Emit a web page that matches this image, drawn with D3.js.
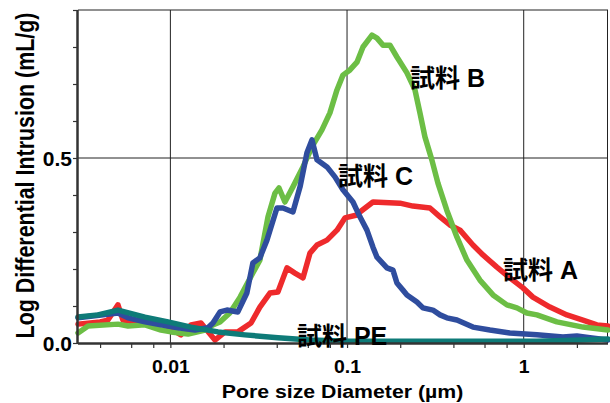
<!DOCTYPE html>
<html>
<head>
<meta charset="utf-8">
<script src="https://cdn.jsdelivr.net/npm/d3@7"></script>
<style>
  body { margin: 0; background: #fff; }
  text { font-family: "Liberation Sans", Arial, "Noto Sans CJK JP", sans-serif; font-weight: bold; fill: #000; }
</style>
</head>
<body>
<div id="chart"></div>
<script>
// Pore size (um) vs log differential intrusion (mL/g)
var sampleA = [
  [0.0030, 0.051], [0.0040, 0.057], [0.00443, 0.062], [0.00505, 0.103], [0.00539, 0.062],
  [0.00631, 0.057], [0.00818, 0.054], [0.00932, 0.049], [0.01148, 0.022], [0.01308, 0.049],
  [0.0149, 0.054], [0.01788, 0.008], [0.0204, 0.030], [0.0241, 0.030], [0.0286, 0.054],
  [0.0321, 0.097], [0.0366, 0.135], [0.0406, 0.138], [0.0457, 0.203], [0.0507, 0.189],
  [0.0563, 0.176], [0.0617, 0.243], [0.0676, 0.265], [0.0770, 0.278], [0.0877, 0.305],
  [0.0973, 0.338], [0.1138, 0.346], [0.1183, 0.354], [0.1402, 0.381], [0.1993, 0.378],
  [0.2360, 0.370], [0.2946, 0.365], [0.336, 0.341], [0.382, 0.319], [0.436, 0.305],
  [0.516, 0.265], [0.588, 0.238], [0.705, 0.205], [0.835, 0.176], [0.990, 0.149],
  [1.127, 0.124], [1.407, 0.097], [1.756, 0.076], [2.163, 0.062], [2.596, 0.049], [2.996, 0.046]
];
var sampleB = [
  [0.0030, 0.027], [0.00342, 0.046], [0.00505, 0.051], [0.00576, 0.046], [0.00718, 0.049],
  [0.00885, 0.035], [0.0101, 0.030], [0.0126, 0.024], [0.0157, 0.035], [0.0174, 0.049],
  [0.0191, 0.057], [0.0217, 0.081], [0.0248, 0.124], [0.0293, 0.189], [0.0321, 0.224],
  [0.0357, 0.341], [0.0391, 0.405], [0.0412, 0.419], [0.0445, 0.381], [0.0494, 0.422],
  [0.0563, 0.476], [0.0641, 0.535], [0.0721, 0.576], [0.0800, 0.622], [0.0877, 0.684],
  [0.0948, 0.724], [0.1039, 0.738], [0.1138, 0.759], [0.1231, 0.800], [0.1384, 0.832],
  [0.1477, 0.824], [0.1597, 0.805], [0.1749, 0.805], [0.1916, 0.773], [0.2183, 0.730],
  [0.2423, 0.684], [0.2586, 0.622], [0.276, 0.557], [0.302, 0.495], [0.327, 0.432],
  [0.367, 0.359], [0.419, 0.286], [0.477, 0.224], [0.565, 0.170], [0.670, 0.130],
  [0.803, 0.103], [0.915, 0.095], [1.042, 0.081], [1.188, 0.076], [1.541, 0.057],
  [2.163, 0.043], [2.996, 0.035]
];
var sampleC = [
  [0.0030, 0.068], [0.00505, 0.081], [0.00576, 0.068], [0.00718, 0.057], [0.00885, 0.049],
  [0.01104, 0.041], [0.01378, 0.035], [0.01632, 0.041], [0.01742, 0.054], [0.0191, 0.084],
  [0.0209, 0.089], [0.0241, 0.084], [0.0271, 0.135], [0.0293, 0.216], [0.0321, 0.230],
  [0.0352, 0.278], [0.0401, 0.365], [0.0434, 0.365], [0.0494, 0.354], [0.0542, 0.422],
  [0.0593, 0.514], [0.0633, 0.549], [0.0676, 0.495], [0.0770, 0.476], [0.0854, 0.449],
  [0.0948, 0.414], [0.1080, 0.381], [0.1183, 0.341], [0.1296, 0.305], [0.1402, 0.259],
  [0.1477, 0.232], [0.1682, 0.203], [0.1819, 0.197], [0.1916, 0.162], [0.2072, 0.143],
  [0.2183, 0.130], [0.2487, 0.111], [0.2689, 0.095], [0.306, 0.089], [0.336, 0.076],
  [0.367, 0.068], [0.419, 0.062], [0.516, 0.043], [0.644, 0.035], [0.835, 0.027],
  [1.188, 0.022], [1.667, 0.016], [2.000, 0.019], [2.370, 0.014], [2.996, 0.008]
];
var samplePE = [
  [0.0030, 0.070], [0.00389, 0.076], [0.00505, 0.089], [0.00718, 0.070], [0.0097, 0.057],
  [0.01308, 0.043], [0.0186, 0.030], [0.0264, 0.022], [0.0406, 0.014], [0.0617, 0.008],
  [0.1039, 0.005], [0.382, 0.005], [1.188, 0.005], [2.163, 0.008], [2.996, 0.011]
];

var seriesNames = ["試料 A", "試料 B", "試料 C", "試料 PE"];
var xTickValues = [0.004, 0.006, 0.008, 0.01, 0.02, 0.04, 0.06, 0.08, 0.1, 0.2, 0.4, 0.6, 0.8, 1, 2];
var xTickLabels = { "0.01": "0.01", "0.1": "0.1", "1": "1" };
var yTickValues = [0, 0.1, 0.2, 0.3, 0.4, 0.5, 0.6, 0.7, 0.8, 0.9];
var yTickLabels = { "0": "0.0", "0.5": "0.5" };

// Setting chart parameters
var svgWidth = 610;
var svgHeight = 403;
var margin = { top: 10, right: 2, bottom: 60, left: 78 };
var width = svgWidth - margin.left - margin.right;
var height = svgHeight - margin.top - margin.bottom;

var svg = d3.select("#chart").append("svg")
  .attr("width", svgWidth)
  .attr("height", svgHeight)
  .style("display", "block");

var chart = svg.append("g").attr("transform", `translate(${margin.left}, ${margin.top})`);

var x = d3.scaleLog().domain([0.003, 3]).range([0, width]);
var y = d3.scaleLinear().domain([0, 0.9]).range([height, 0]);

// Grid lines
chart.selectAll(".vgrid").data([0.01, 0.1, 1]).enter().append("line")
  .attr("x1", d => x(d)).attr("x2", d => x(d))
  .attr("y1", 0).attr("y2", height)
  .attr("stroke", "#222").attr("stroke-width", 1);
chart.selectAll(".hgrid").data([0.5, 0.9]).enter().append("line")
  .attr("x1", 0).attr("x2", width)
  .attr("y1", d => y(d)).attr("y2", d => y(d))
  .attr("stroke", "#222").attr("stroke-width", 1);
chart.append("line")
  .attr("x1", width - 0.5).attr("x2", width - 0.5)
  .attr("y1", 0).attr("y2", height)
  .attr("stroke", "#222").attr("stroke-width", 1);

// Lines
var line = d3.line()
  .x(d => x(d[0]))
  .y(d => y(d[1]));

var series = [
  { name: seriesNames[0], data: sampleA, color: "#ee2a2c" },
  { name: seriesNames[1], data: sampleB, color: "#6cbe45" },
  { name: seriesNames[2], data: sampleC, color: "#2f4d9e" },
  { name: seriesNames[3], data: samplePE, color: "#0e7b78" }
];

chart.selectAll(".series").data(series).enter().append("path")
  .attr("d", d => line(d.data))
  .attr("fill", "none")
  .attr("stroke", d => d.color)
  .attr("stroke-width", 5.5)
  .attr("stroke-linejoin", "round")
  .attr("stroke-linecap", "round");

// Axes
var bottomAxis = d3.axisBottom(x)
  .tickValues(xTickValues)
  .tickSize(5)
  .tickFormat(d => xTickLabels[String(d)] || "");
var leftAxis = d3.axisLeft(y)
  .tickValues(yTickValues)
  .tickSize(5)
  .tickFormat(d => yTickLabels[String(d)] || "");

var gx = chart.append("g").attr("transform", `translate(0, ${height})`).call(bottomAxis);
var gy = chart.append("g").call(leftAxis);

[gx, gy].forEach(function(g) {
  g.select(".domain").attr("stroke", "#333").attr("stroke-width", 2.5);
  g.selectAll(".tick line").attr("stroke", "#333").attr("stroke-width", 1.2);
  g.selectAll(".tick text").attr("fill", "#000");
});
gx.select(".domain").attr("d", `M0,0.5H${width}`);
gy.select(".domain").attr("d", `M-0.5,0V${height}`);

gx.selectAll(".tick text")
  .style("font-size", "18px")
  .attr("y", 30.5).attr("dy", null)
  .attr("transform", "scale(1.08,1)");
gy.selectAll(".tick text")
  .style("font-size", "21px")
  .attr("x", -6).attr("dy", "0.38em");

// Axis titles
svg.append("text")
  .attr("transform", "translate(342.5, 397.5) scale(1.12,1)")
  .attr("text-anchor", "middle")
  .style("font-size", "19px")
  .text("Pore size Diameter (µm)");

svg.append("text")
  .attr("transform", "translate(33.5, 175.5) rotate(-90) scale(0.84,1)")
  .attr("text-anchor", "middle")
  .style("font-size", "25.5px")
  .text("Log Differential Intrusion (mL/g)");

// Series annotations
var labelSpots = [[503, 279], [410, 87], [338, 185], [297, 345]];
svg.selectAll(".note").data(seriesNames).enter().append("text")
  .attr("x", (d, i) => labelSpots[i][0])
  .attr("y", (d, i) => labelSpots[i][1])
  .style("font-size", "25px")
  .text(d => d);
</script>
</body>
</html>
